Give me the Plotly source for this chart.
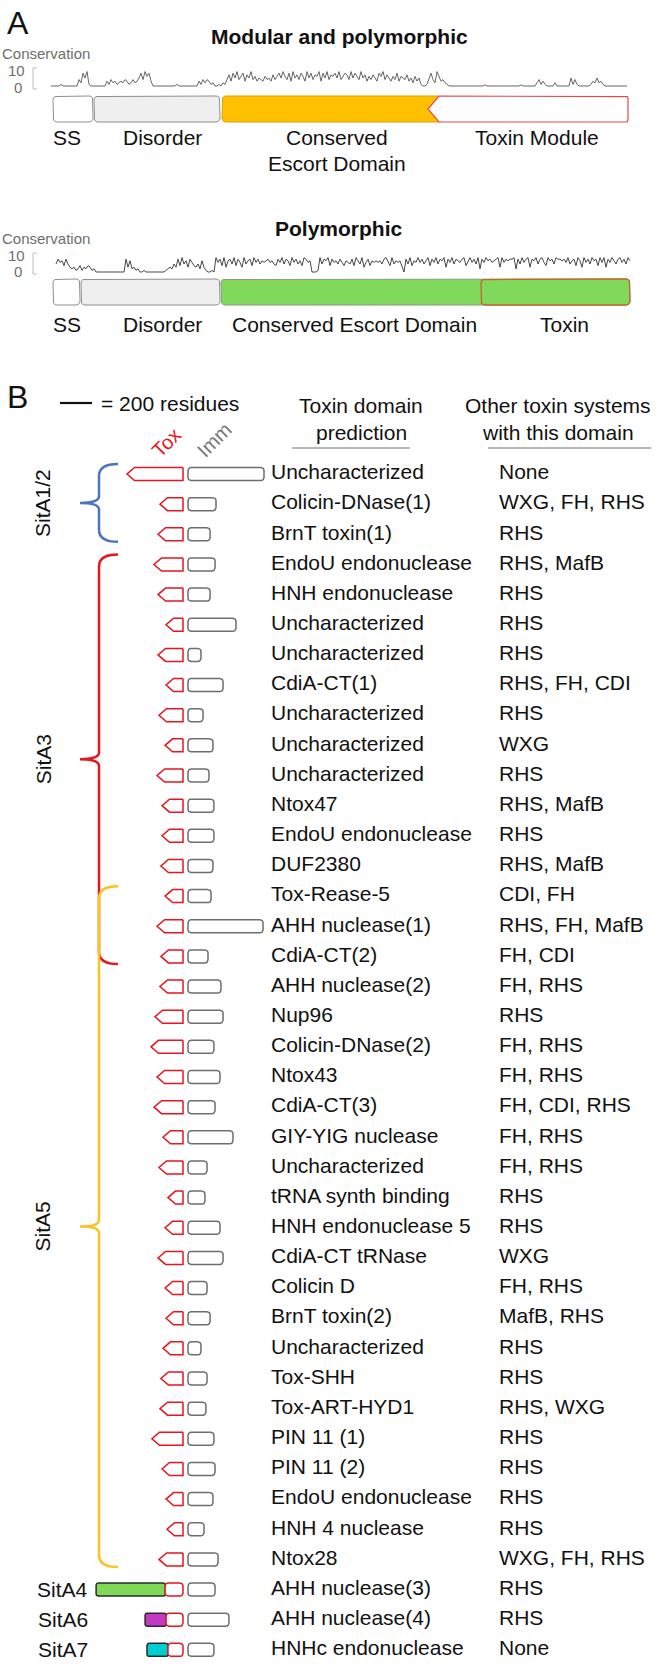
import numpy as np
import plotly.graph_objects as go

W, H = 660, 1667
FONT = "Liberation Sans, Arial, sans-serif"

# ---------------- data ----------------
toxin_names = ["Uncharacterized", "Colicin-DNase(1)", "BrnT toxin(1)", "EndoU endonuclease",
               "HNH endonuclease", "Uncharacterized", "Uncharacterized", "CdiA-CT(1)",
               "Uncharacterized", "Uncharacterized", "Uncharacterized", "Ntox47",
               "EndoU endonuclease", "DUF2380", "Tox-Rease-5", "AHH nuclease(1)",
               "CdiA-CT(2)", "AHH nuclease(2)", "Nup96", "Colicin-DNase(2)", "Ntox43",
               "CdiA-CT(3)", "GIY-YIG nuclease", "Uncharacterized", "tRNA synth binding",
               "HNH endonuclease 5", "CdiA-CT tRNase", "Colicin D", "BrnT toxin(2)",
               "Uncharacterized", "Tox-SHH", "Tox-ART-HYD1", "PIN 11 (1)", "PIN 11 (2)",
               "EndoU endonuclease", "HNH 4 nuclease", "Ntox28", "AHH nuclease(3)",
               "AHH nuclease(4)", "HNHc endonuclease"]
other_systems = ["None", "WXG, FH, RHS", "RHS", "RHS, MafB", "RHS", "RHS", "RHS", "RHS, FH, CDI",
                 "RHS", "WXG", "RHS", "RHS, MafB", "RHS", "RHS, MafB", "CDI, FH", "RHS, FH, MafB",
                 "FH, CDI", "FH, RHS", "RHS", "FH, RHS", "FH, RHS", "FH, CDI, RHS", "FH, RHS",
                 "FH, RHS", "RHS", "RHS", "WXG", "FH, RHS", "MafB, RHS", "RHS", "RHS", "RHS, WXG",
                 "RHS", "RHS", "RHS", "RHS", "WXG, FH, RHS", "RHS", "RHS", "None"]
# lengths in residues
tox_len = [350, 144, 156, 181, 156, 106, 156, 106, 150, 112, 162, 131, 131, 138, 112, 162,
           138, 144, 175, 200, 162, 181, 125, 150, 94, 112, 156, 112, 106, 125, 138, 144,
           194, 131, 106, 100, 150, 112, 106, 94]
imm_len = [475, 175, 138, 169, 138, 300, 81, 219, 94, 156, 131, 162, 162, 156, 144, 469,
           125, 206, 219, 162, 200, 169, 281, 119, 106, 200, 219, 119, 138, 81, 119, 112,
           162, 169, 156, 100, 188, 169, 256, 162]
ext_len = [0, 0, 0, 0, 0, 0, 0, 0, 0, 0, 0, 0, 0, 0, 0, 0, 0, 0, 0, 0, 0, 0, 0, 0, 0, 0,
           0, 0, 0, 0, 0, 0, 0, 0, 0, 0, 0, 431, 131, 131]
ext_color = {37: "#7ed957", 38: "#c23ac4", 39: "#00cece"}

group_names = ["SitA1/2", "SitA3", "SitA5"]
group_first = [0, 3, 14]
group_last = [2, 16, 36]
group_colors = ["#4a74c4", "#e8141e", "#fdc21c"]
single_names = ["SitA4", "SitA6", "SitA7"]
single_rows = [37, 38, 39]
scale_residues = 200

# conservation profiles (0-10), sampled every 2 px along the alignment
cons_mod = [0, 0, 0, 0, 0, 1,
            0, 0, 0, 0, 0, 0, 0, 0,
            4, 2, 8, 5, 9, 1,
            0, 0, 0, 0, 0, 0, 0, 0,
            3, 1, 4, 2, 3, 1, 2, 3, 2, 4, 3, 1, 2, 4, 2, 3,
            5, 8, 4, 9, 6, 8, 3,
            0, 0, 0, 0, 0, 0, 0, 0, 0, 0, 0, 0,
            1,
            0, 0, 0, 0, 0, 0, 0, 0, 0, 0,
            3, 1, 4, 2, 4, 3, 1, 2, 0,
            0, 1, 0, 2, 1,
            4, 7, 3, 8, 5, 9, 4, 6, 8, 3, 7, 5, 9, 4, 6, 3, 5, 4, 3, 6, 4, 5, 3, 7, 4, 6, 8, 5, 9, 6,
            4, 8, 3, 9, 5, 7, 4, 8, 6, 3, 9, 5, 8, 4, 7, 6, 9, 3, 8, 5, 9, 4, 7, 6, 8, 5, 9, 4, 6, 8,
            7, 4, 9, 5, 8, 6, 4, 9, 5, 7, 3, 6, 4, 7, 5, 3, 8, 6, 9, 4, 7, 5, 3, 6, 4, 8, 3, 6, 5, 4,
            7, 3, 5, 2, 6, 3, 5,
            1, 0, 0, 1,
            5, 8, 4, 2, 9, 6, 3, 4, 2, 1, 0, 0,
            0, 0, 0, 0, 0, 0, 0, 0, 0, 0, 0, 0, 0, 0, 0, 0,
            0.7,
            0, 0, 0, 0, 0, 0, 0, 0, 0, 0, 0, 0, 0, 0, 0, 0, 0,
            0.7,
            0, 0, 0, 0, 0, 0, 0,
            2, 4, 1, 3, 1,
            0, 0, 0, 0,
            2, 0,
            0, 0, 0, 0, 0, 0,
            5, 1, 4, 1, 0,
            0, 0, 0, 0, 0,
            1, 3, 2, 5, 2, 3, 1, 0,
            0, 0, 0, 0, 0, 0, 0, 0, 0, 0, 0]
cons_poly = [5, 8, 6, 7, 4, 8, 5, 3, 2, 3, 1, 2, 4, 1, 3, 2, 4, 3, 1, 2, 0,
             0, 0, 0, 0, 0, 0, 0, 0, 0, 0, 0, 0, 0, 0,
             8, 3, 7, 2, 3, 1, 2, 0,
             0, 1, 0, 0, 0, 0, 0, 0, 0, 0, 0, 0,
             1, 2, 3, 2, 5, 3, 8, 4, 9, 5, 7, 3, 8, 6, 4, 3, 5, 2, 7, 3,
             1, 0, 0, 1, 0,
             9, 6, 8, 4, 9, 3, 7, 8, 5, 9, 4, 8, 6, 3, 9, 5, 7, 8, 4, 9, 6, 8, 5, 7, 6, 7, 8, 6,
             7, 5, 4, 8, 6, 9, 5, 8, 7, 4, 9, 6, 8, 5, 7, 4, 9, 8, 6, 7,
             0, 0, 0, 1,
             9, 5, 8, 7, 9, 4, 8, 6, 7, 5, 8, 6, 4, 7,
             6, 5, 8, 4, 9, 7, 5, 9, 3, 6, 8, 4, 7, 6, 7, 6, 7, 5, 8, 9, 6, 4, 9, 5, 7, 6, 7, 3,
             0, 8, 5, 9, 4, 7, 6,
             9, 6, 8, 5, 7, 9, 4, 8, 6, 9, 5, 8, 7, 9, 3, 8, 6, 9, 5, 8, 7, 6, 8, 9, 4, 7, 9, 6,
             8, 5, 9, 2, 8, 6, 9, 7, 8, 6, 7, 8, 9, 3, 9, 6, 8, 7, 8, 8, 9, 2, 8, 5, 9, 6, 8, 9,
             3, 8, 7, 9, 5, 8, 9, 6, 4, 9, 7, 8, 5, 9, 8, 8, 7, 8, 6, 9, 5, 7, 8, 4, 9, 7, 3, 9,
             6, 8, 5, 9, 7, 8, 4, 9, 6, 9, 3, 8, 6, 9, 7, 5, 8, 9, 6, 8, 5, 9, 7]

# domain architecture (alignment positions, same sampling as conservation)
dom_mod_names = ["SS", "Disorder", "Conserved Escort Domain", "Toxin Module"]
dom_mod_start = [1, 21.5, 85.5, 194]
dom_mod_end = [21, 84.5, 194, 288.5]
dom_poly_names = ["SS", "Disorder", "Conserved Escort Domain", "Toxin"]
dom_poly_start = [-1.5, 12.5, 82.5, 212.5]
dom_poly_end = [12, 82, 287, 287]

# ---------------- coordinate helpers ----------------
RPP = 6.25          # residues per pixel in panel B
TOX_END_PX = 183
ROW0_PX, ROW_PX = 474, 30.15


def bx(px):
    return (px - TOX_END_PX) * RPP


def by(py):
    return (py - ROW0_PX) / ROW_PX


def a1x(px):
    return (px - 51) / 2.0


def a1y(py):
    return (86 - py) / 1.6


def a2x(px):
    return (px - 56) / 2.0


def a2y(py):
    return (272 - py) / 1.6


def px_x(px):
    return px / W


def px_y(py):
    return 1 - py / H


def arc(cx, cy, rx, ry, t0, t1, n=7):
    t = np.radians(np.linspace(t0, t1, n))
    return list(cx + rx * np.cos(t)), list(cy + ry * np.sin(t))


def rrect(x0, x1, y0, y1, rx, ry, corners=(True, True, True, True)):
    rx = min(rx, (x1 - x0) / 2)
    ry = min(ry, (y1 - y0) / 2)
    xs, ys = [], []
    specs = [((x1 - rx, y0 + ry, -90, 0), (x1, y0)),
             ((x1 - rx, y1 - ry, 0, 90), (x1, y1)),
             ((x0 + rx, y1 - ry, 90, 180), (x0, y1)),
             ((x0 + rx, y0 + ry, 180, 270), (x0, y0))]
    for use, (a, sq) in zip(corners, specs):
        if use:
            u, v = arc(a[0], a[1], rx, ry, a[2], a[3])
            xs += u
            ys += v
        else:
            xs.append(sq[0])
            ys.append(sq[1])
    xs.append(xs[0])
    ys.append(ys[0])
    return xs, ys


fig = go.Figure()


def poly(xs, ys, fill, line, width, xa="x", ya="y"):
    fig.add_trace(go.Scatter(x=xs, y=ys, mode="lines", fill="toself", fillcolor=fill,
                             line=dict(color=line, width=width), xaxis=xa, yaxis=ya,
                             hoverinfo="skip", showlegend=False))


# ---------------- Panel A: modular ----------------
yt, yb = a1y(96), a1y(122)
rx, ry = 2.0, 2.5
fills = ["#ffffff", "#efefef"]
for i in range(2):
    xs, ys = rrect(dom_mod_start[i], dom_mod_end[i], yb, yt, rx, ry)
    poly(xs, ys, fills[i], "#8f8f8f", 1, "x2", "y2")
notch = 5.5
ym = (yt + yb) / 2
x0, x1 = dom_mod_start[2], dom_mod_end[2]
u1, v1 = arc(x0 + rx, yb + ry, rx, ry, 270, 180)
u2, v2 = arc(x0 + rx, yt - ry, rx, ry, 180, 90)
xs = [x0 + rx, x1, x1 - notch, x1, x0 + rx] + u1 + u2
ys = [yt, yt, ym, yb, yb] + v1 + v2
poly(xs, ys, "#ffc000", "#d9a300", 1, "x2", "y2")
x0, x1 = dom_mod_start[3], dom_mod_end[3]
u1, v1 = arc(x1 - 1, yt - 1.5, 1, 1.5, 90, 0)
u2, v2 = arc(x1 - 1, yb + 1.5, 1, 1.5, 0, -90)
xs = [x0] + u1 + u2 + [x0, x0 - notch, x0]
ys = [yt] + v1 + v2 + [yb, ym, yt]
poly(xs, ys, "#ffffff", "#e8484a", 1.2, "x2", "y2")
fig.add_trace(go.Scatter(x=np.arange(len(cons_mod)), y=cons_mod, mode="lines",
                         line=dict(color="#555555", width=0.9), xaxis="x2", yaxis="y2",
                         hoverinfo="skip", showlegend=False))

# ---------------- Panel A: polymorphic ----------------
yt, yb = a2y(279), a2y(305)
fills = ["#ffffff", "#efefef", "#80d95a"]
lines = ["#8f8f8f", "#8f8f8f", "#8a9a84"]
for i in range(3):
    xs, ys = rrect(dom_poly_start[i], dom_poly_end[i], yb, yt, rx, ry)
    poly(xs, ys, fills[i], lines[i], 1, "x3", "y3")
xs, ys = rrect(dom_poly_start[3], dom_poly_end[3], yb, yt, rx, ry)
poly(xs, ys, "#80d95a", "#c8622e", 1.3, "x3", "y3")
fig.add_trace(go.Scatter(x=np.arange(len(cons_poly)), y=cons_poly, mode="lines",
                         line=dict(color="#333333", width=0.9), xaxis="x3", yaxis="y3",
                         hoverinfo="skip", showlegend=False))

# ---------------- Panel B: glyphs ----------------
h = 6.5 / ROW_PX
tip = 7.5 * RPP
r_x, r_y = 3 * RPP, 3 / ROW_PX
imm_start = bx(188)
for i in range(len(toxin_names)):
    y = i
    if ext_len[i] > 0:
        xs, ys = rrect(-tox_len[i] - ext_len[i], -tox_len[i] + 2, y - h, y + h, 2 * RPP, 2 / ROW_PX)
        poly(xs, ys, ext_color[i], "#2a2a2a", 1.5)
        xs, ys = rrect(-tox_len[i], 0, y - h, y + h, r_x, r_y)
        poly(xs, ys, "#ffffff", "#e8141e", 1.5)
    else:
        L = tox_len[i]
        xs = [0, -L + tip, -L, -L + tip, 0, 0]
        ys = [y - h, y - h, y, y + h, y + h, y - h]
        poly(xs, ys, "#ffffff", "#e8141e", 1.5)
    xs, ys = rrect(imm_start, imm_start + imm_len[i], y - h, y + h, r_x, r_y)
    poly(xs, ys, "#ffffff", "#6e6e6e", 1.5)

rows = list(range(len(toxin_names)))
fig.add_trace(go.Scatter(x=[bx(271)] * len(rows), y=rows, text=toxin_names, mode="text",
                         textposition="middle right", hoverinfo="skip", showlegend=False,
                         textfont=dict(family=FONT, size=21, color="#111111")))
fig.add_trace(go.Scatter(x=[bx(499)] * len(rows), y=rows, text=other_systems, mode="text",
                         textposition="middle right", hoverinfo="skip", showlegend=False,
                         textfont=dict(family=FONT, size=21, color="#111111")))

shapes = []
annotations = []

# brackets
xs_sp, xs_hook, xs_tip = bx(99), bx(118), bx(80)
for name, f, l, c in zip(group_names, group_first, group_last, group_colors):
    top, bot = f - 0.33, l + 0.25
    mid = (top + bot) / 2
    r, rm = 0.4, 0.22
    path = (f"M {xs_hook},{top} Q {xs_sp},{top} {xs_sp},{top + r} L {xs_sp},{mid - rm} "
            f"Q {xs_sp},{mid} {xs_tip},{mid} Q {xs_sp},{mid} {xs_sp},{mid + rm} "
            f"L {xs_sp},{bot - r} Q {xs_sp},{bot} {xs_hook},{bot}")
    shapes.append(dict(type="path", path=path, xref="x", yref="y",
                       line=dict(color=c, width=2.5)))
    annotations.append(dict(text=name, x=px_x(43), y=mid, xref="paper", yref="y",
                            textangle=-90, showarrow=False, xanchor="center", yanchor="middle",
                            font=dict(family=FONT, size=21, color="#111111")))
for name, r_ in zip(single_names, single_rows):
    annotations.append(dict(text=name, x=px_x(90), y=r_, xref="paper", yref="y",
                            showarrow=False, xanchor="right", yanchor="middle",
                            font=dict(family=FONT, size=21, color="#111111")))

# scale bar
sb0 = bx(60)
shapes.append(dict(type="line", x0=sb0, x1=sb0 + scale_residues, xref="x",
                   y0=px_y(403), y1=px_y(403), yref="paper", line=dict(color="#111111", width=2.2)))


def ann(text, x, y, size=21, color="#111111", xanchor="center", bold=False, angle=0):
    annotations.append(dict(text=f"<b>{text}</b>" if bold else text, x=px_x(x), y=px_y(y),
                            xref="paper", yref="paper", showarrow=False, xanchor=xanchor,
                            yanchor="middle", textangle=angle,
                            font=dict(family=FONT, size=size, color=color)))


def hline(x0, x1, y, color="#a0a0a0", width=1.5):
    shapes.append(dict(type="line", x0=px_x(x0), x1=px_x(x1), y0=px_y(y), y1=px_y(y),
                       xref="paper", yref="paper", line=dict(color=color, width=width)))


# Panel B headers
ann("B", 17, 397, size=32)
ann("= 200 residues", 99, 403, xanchor="left")
ann("Toxin domain", 361, 406)
ann("prediction", 361, 432)
hline(292, 410, 448)
ann("Other toxin systems", 558, 406)
ann("with this domain", 558, 432)
hline(488, 651, 448)
ann("Tox", 166, 443, size=20, color="#e8141e", angle=-45)
ann("Imm", 214, 440, size=20, color="#777777", angle=-45)

# Panel A texts
ann("A", 18, 23, size=32)
ann("Modular and polymorphic", 339, 36, bold=True)
ann("Conservation", 0, 53, size=15, color="#6e6e6e", xanchor="left")
ann("10", 27, 70, size=15, color="#6e6e6e", xanchor="right")
ann("0", 24, 87, size=15, color="#6e6e6e", xanchor="right")
shapes.append(dict(type="path", path=f"M {px_x(37)},{px_y(68)} L {px_x(33)},{px_y(68)} "
                                      f"L {px_x(33)},{px_y(89)} L {px_x(37)},{px_y(89)}",
                   xref="paper", yref="paper", line=dict(color="#bdbdbd", width=1)))
ann("SS", 67, 137)
ann("Disorder", 162, 137)
ann("Conserved", 337, 137)
ann("Escort Domain", 337, 163)
ann("Toxin Module", 537, 137)

ann("Polymorphic", 339, 229, bold=True)
ann("Conservation", 0, 239, size=15, color="#6e6e6e", xanchor="left")
ann("10", 27, 255, size=15, color="#6e6e6e", xanchor="right")
ann("0", 24, 272, size=15, color="#6e6e6e", xanchor="right")
shapes.append(dict(type="path", path=f"M {px_x(37)},{px_y(253)} L {px_x(33)},{px_y(253)} "
                                      f"L {px_x(33)},{px_y(274)} L {px_x(37)},{px_y(274)}",
                   xref="paper", yref="paper", line=dict(color="#bdbdbd", width=1)))
ann("SS", 67, 325)
ann("Disorder", 162, 325)
ann("Conserved Escort Domain", 354, 325)
ann("Toxin", 564, 325)

hidden = dict(visible=False, showgrid=False, zeroline=False, fixedrange=True, domain=[0, 1])
fig.update_layout(
    width=W, height=H, margin=dict(l=0, r=0, t=0, b=0),
    paper_bgcolor="white", plot_bgcolor="rgba(0,0,0,0)",
    showlegend=False, shapes=shapes, annotations=annotations,
    font=dict(family=FONT),
    xaxis=dict(hidden, range=[bx(0), bx(W)], anchor="y"),
    yaxis=dict(hidden, range=[by(H), by(0)], anchor="x"),
    xaxis2=dict(hidden, range=[a1x(0), a1x(W)], anchor="y2"),
    yaxis2=dict(hidden, range=[a1y(H), a1y(0)], anchor="x2"),
    xaxis3=dict(hidden, range=[a2x(0), a2x(W)], anchor="y3"),
    yaxis3=dict(hidden, range=[a2y(H), a2y(0)], anchor="x3"),
)

fig.write_html("out.html", config={"displayModeBar": False},
               post_script="document.body.style.margin='0';document.body.style.padding='0';")
